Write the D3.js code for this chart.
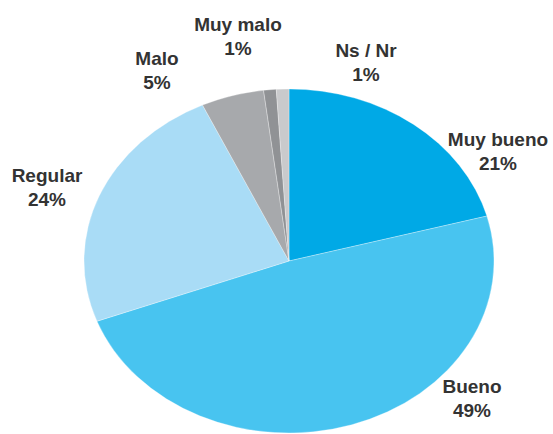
<!DOCTYPE html>
<html>
<head>
<meta charset="utf-8">
<script src="https://cdn.jsdelivr.net/npm/d3@7"></script>
<style>
  html, body { margin: 0; padding: 0; background: #ffffff; }
  svg { display: block; }
  text { font-family: "Liberation Sans", Arial, sans-serif; font-weight: bold; fill: #333333; }
</style>
</head>
<body>
<svg id="chart" width="553" height="434"></svg>
<script>
// Survey rating shares (percent), clockwise from 12 o'clock
const categories = ["Muy bueno", "Bueno", "Regular", "Malo", "Muy malo", "Ns / Nr"];
const shares = [21, 49, 24, 5, 1, 1];
const shareLabels = ["21%", "49%", "24%", "5%", "1%", "1%"];
const sliceColors = ["#00a9e6", "#48c4f0", "#a9dcf6", "#a7a9ac", "#909295", "#c9cacc"];

// Where each two-line label sits (centre x, first baseline y)
const labelSpots = {
  "Muy bueno": [498, 146],
  "Bueno":     [472, 393],
  "Regular":   [47, 182],
  "Malo":      [157, 65],
  "Muy malo":  [238, 31],
  "Ns / Nr":   [366, 57]
};

const svg = d3.select("#chart");
const cx = 289, cy = 261, rx = 205, ry = 172;

const data = categories.map((c, i) => ({ name: c, value: shares[i], label: shareLabels[i], color: sliceColors[i] }));

const pie = d3.pie().sort(null).value(d => d.value).startAngle(0).endAngle(2 * Math.PI);
const arc = d3.arc().innerRadius(0).outerRadius(rx);

const g = svg.append("g")
  .attr("transform", `translate(${cx},${cy}) scale(1,${ry / rx})`);

g.selectAll("path")
  .data(pie(data))
  .join("path")
  .attr("d", arc)
  .attr("fill", d => d.data.color)
  .attr("stroke", "#ffffff")
  .attr("stroke-opacity", 0.5)
  .attr("stroke-width", 0.6)
  .attr("vector-effect", "non-scaling-stroke");

const labels = svg.append("g")
  .selectAll("text")
  .data(data)
  .join("text")
  .attr("text-anchor", "middle")
  .style("font-size", "19px")
  .attr("x", d => labelSpots[d.name][0])
  .attr("y", d => labelSpots[d.name][1]);

labels.append("tspan")
  .text(d => d.name);
labels.append("tspan")
  .attr("x", d => labelSpots[d.name][0])
  .attr("dy", 24)
  .text(d => d.label);
</script>
</body>
</html>
